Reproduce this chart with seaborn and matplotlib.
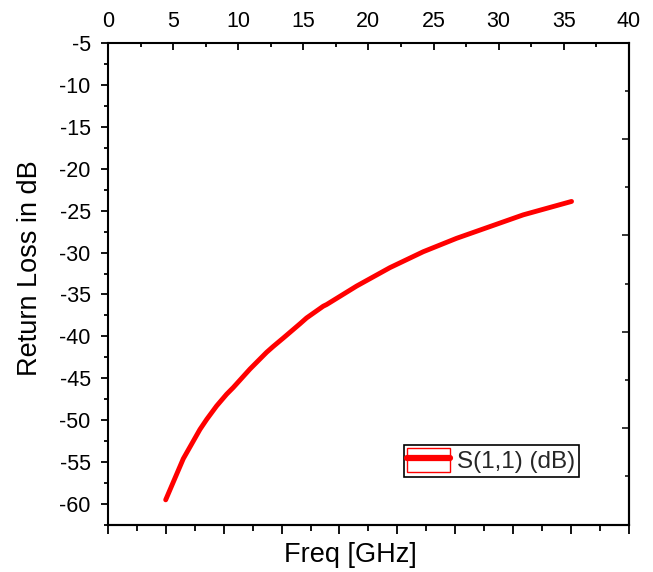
import matplotlib
matplotlib.use("Agg")
import matplotlib.pyplot as plt
import seaborn as sns
import pandas as pd
from matplotlib.patches import Patch
from matplotlib.lines import Line2D
from matplotlib.legend_handler import HandlerTuple

freq_ghz = [4.43, 5.78, 7.06, 7.58, 8.34, 9.11, 9.62, 10.9, 12.18, 12.69, 13.46, 14.74,
            15.25, 16.53, 16.79, 19.09, 21.65, 24.21, 26.77, 29.33, 31.89, 35.6]
s11_db = [-59.5, -54.6, -51.1, -49.9, -48.3, -46.9, -46.1, -43.9, -41.9, -41.2, -40.2, -38.5,
          -37.8, -36.4, -36.2, -34.0, -31.8, -29.9, -28.3, -26.9, -25.5, -23.9]
x_ticks = [0, 5, 10, 15, 20, 25, 30, 35, 40]
y_ticks = [-5, -10, -15, -20, -25, -30, -35, -40, -45, -50, -55, -60]

df = pd.DataFrame({"Freq": freq_ghz, "S11": s11_db})

sns.set_style("white")
plt.rcParams["font.family"] = ["Liberation Sans", "DejaVu Sans"]
plt.rcParams["axes.unicode_minus"] = False

fig = plt.figure(figsize=(6.53, 5.72), dpi=100)
ax = fig.add_axes([0.1654, 0.0822, 0.7976, 0.8426])

sns.lineplot(data=df, x="Freq", y="S11", ax=ax, color="#ff0000", linewidth=3.5,
             legend=False)
for ln in ax.lines:
    ln.set_solid_joinstyle("round")

XMIN, XMAX = 0, 40
YMIN, YMAX = -62.4, -5
ax.set_xlim(XMIN, XMAX)
ax.set_ylim(YMIN, YMAX)

for s in ax.spines.values():
    s.set_color("black")
    s.set_linewidth(1.5)

# top: inward ticks with labels (primary x axis)
ax.xaxis.tick_top()
ax.set_xticks(x_ticks)
ax.set_xticks([v + 2.5 for v in x_ticks[:-1]], minor=True)
ax.tick_params(axis="x", which="both", direction="in", top=True, bottom=False,
               labeltop=True, labelbottom=False, labelsize=15.5, width=1.3, colors="black")
ax.tick_params(axis="x", which="major", length=5, pad=8)
ax.tick_params(axis="x", which="minor", length=3)

# left: outward ticks with labels
ax.set_yticks(y_ticks)
ax.set_yticks([v - 2.5 for v in y_ticks], minor=True)
ax.tick_params(axis="y", which="both", direction="out", left=True, right=False,
               labelsize=15.5, width=1.3, colors="black")
ax.tick_params(axis="y", which="major", length=5, pad=7.5)
ax.tick_params(axis="y", which="minor", length=3)

# bottom: outward ticks, no labels, 9 divisions
def to_bottom(x):
    return (x - XMIN) / (XMAX - XMIN) * 9
def from_bottom(u):
    return u / 9 * (XMAX - XMIN) + XMIN
bot = ax.secondary_xaxis("bottom", functions=(to_bottom, from_bottom))
bot.set_xticks(list(range(10)))
bot.set_xticks([k + 0.5 for k in range(9)], minor=True)
bot.tick_params(axis="x", which="both", direction="out", labelbottom=False, width=1.3,
                colors="black")
bot.tick_params(axis="x", which="major", length=6.5)
bot.tick_params(axis="x", which="minor", length=4.5)
bot.spines["bottom"].set_linewidth(1.5)

# right: inward ticks, no labels, 5 divisions
def to_right(y):
    return (y - YMIN) / (YMAX - YMIN) * 5
def from_right(r):
    return r / 5 * (YMAX - YMIN) + YMIN
right = ax.secondary_yaxis("right", functions=(to_right, from_right))
right.set_yticks([1, 2, 3, 4])
right.set_yticks([0.5, 1.5, 2.5, 3.5, 4.5], minor=True)
right.tick_params(axis="y", which="both", direction="in", labelright=False, width=1.3)
right.tick_params(axis="y", which="major", length=5)
right.tick_params(axis="y", which="minor", length=3)
right.spines["right"].set_linewidth(1.5)

ax.set_xlabel("Freq [GHz]", fontsize=19.5, color="black")
ax.xaxis.set_label_position("bottom")
ax.xaxis.set_label_coords(0.4645, -0.036)
ax.xaxis.label.set_va("top")
ax.set_ylabel("Return Loss in dB", fontsize=19.5, color="black")
ax.yaxis.set_label_coords(-0.1245, 0.532)

handle = (Patch(facecolor="none", edgecolor="#ff0000", linewidth=1.0),
          Line2D([], [], color="#ff0000", linewidth=4.5))
leg = ax.legend([handle], ["S(1,1) (dB)"],
                handler_map={tuple: HandlerTuple(ndivide=1, pad=0)},
                loc="lower right", bbox_to_anchor=(0.904, 0.0996), fontsize=17.5,
                frameon=True, fancybox=False, framealpha=1, borderpad=0.15,
                handlelength=1.75, handleheight=1.1, handletextpad=0.3, borderaxespad=0)
leg.get_frame().set_edgecolor("black")
leg.get_frame().set_linewidth(1.2)

fig.savefig("out.png", dpi=100)
